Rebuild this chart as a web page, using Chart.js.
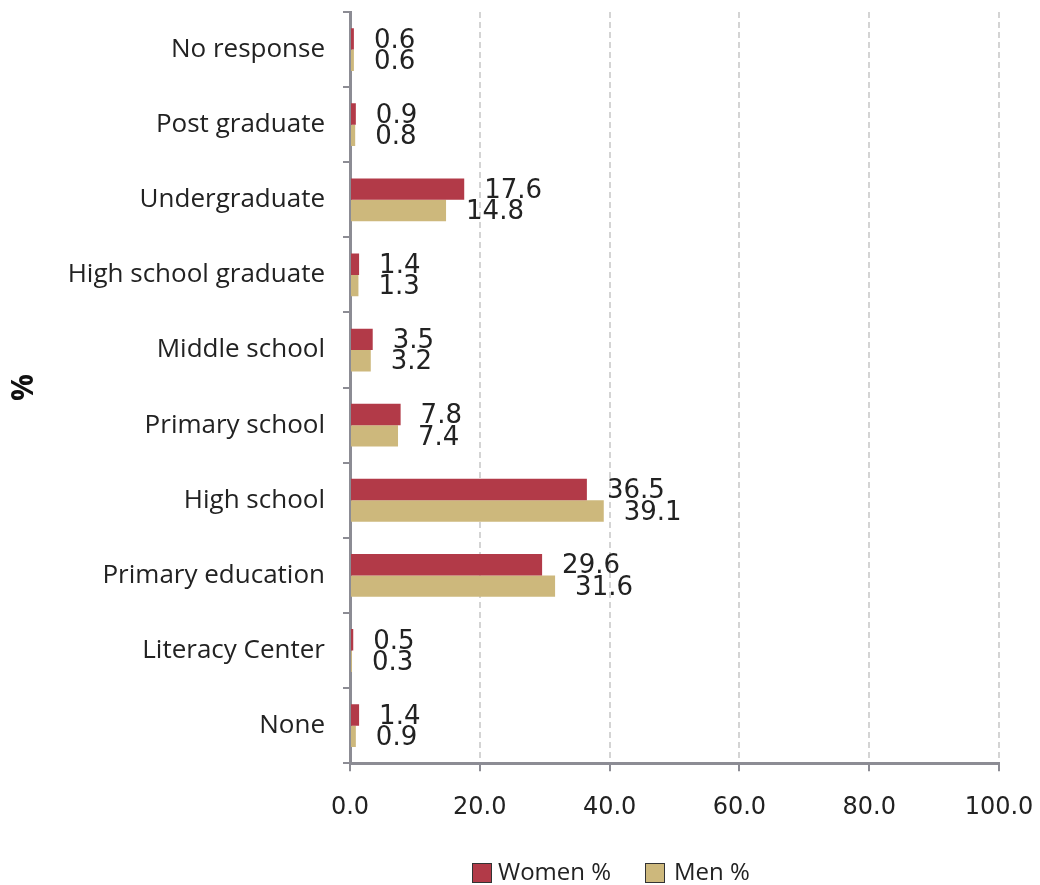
<!DOCTYPE html>
<html><head><meta charset="utf-8">
<script src="https://cdn.jsdelivr.net/npm/chart.js@4/dist/chart.umd.min.js"></script>
<style>html,body{margin:0;padding:0;background:#fff}#wrap{width:1040px;height:885px}</style>
</head><body><div id="wrap"><canvas id="c" width="1040" height="885"></canvas></div>
<script>
const categories = ["No response","Post graduate","Undergraduate","High school graduate","Middle school","Primary school","High school","Primary education","Literacy Center","None"];
const women = [0.6,0.9,17.6,1.4,3.5,7.8,36.5,29.6,0.5,1.4];
const men = [0.6,0.8,14.8,1.3,3.2,7.4,39.1,31.6,0.3,0.9];
const xTicks = [0,20,40,60,80,100];
const seriesNames = ["Women %","Men %"];
const colors = ["#B23A48","#CDB87C"];

const labelPlugin = {
  id:'vals',
  afterDatasetsDraw(chart){
    const ctx = chart.ctx;
    ctx.save();
    ctx.font = '26px "DejaVu Sans"';
    ctx.fillStyle = '#222';
    ctx.textBaseline = 'middle';
    ctx.textAlign = 'left';
    chart.data.datasets.forEach((ds,i)=>{
      chart.getDatasetMeta(i).data.forEach((bar,j)=>{
        ctx.fillText(ds.data[j].toFixed(1), bar.x + 20, bar.y + 2);
      });
    });
    ctx.restore();
  }
};
const legendPlugin = {
  id:'leg',
  afterDraw(chart){
    const ctx = chart.ctx;
    ctx.save();
    ctx.font = '24px "Open Sans"';
    ctx.textBaseline = 'middle';
    const y = 873;
    const items = [{x:472,t:seriesNames[0],c:colors[0],d:26},{x:645,t:seriesNames[1],c:colors[1],d:29}];
    items.forEach(it=>{
      ctx.fillStyle = it.c;
      ctx.fillRect(it.x, y-10, 20, 20);
      ctx.strokeStyle = '#333';
      ctx.lineWidth = 1;
      ctx.strokeRect(it.x+0.5, y-9.5, 19, 19);
      ctx.fillStyle = '#222';
      ctx.fillText(it.t, it.x+it.d, y);
    });
    ctx.restore();
  }
};

new Chart(document.getElementById('c'), {
  type:'bar',
  data:{labels:categories, datasets:[
    {label:seriesNames[0], data:women, backgroundColor:colors[0], barPercentage:1, categoryPercentage:0.57},
    {label:seriesNames[1], data:men, backgroundColor:colors[1], barPercentage:1, categoryPercentage:0.57}
  ]},
  options:{
    indexAxis:'y', responsive:false, animation:false,
    layout:{padding:{top:12,right:41,bottom:41,left:0}},
    plugins:{legend:{display:false}, tooltip:{enabled:false}},
    scales:{
      x:{min:0,max:100,
        afterBuildTicks(ax){ax.ticks = xTicks.map(v=>({value:v}));},
        afterFit(ax){ax.paddingLeft = 0; ax.paddingRight = 0;},
        ticks:{callback:v=>Number(v).toFixed(1), font:{family:'"DejaVu Sans"',size:24}, color:'#222', padding:22, maxRotation:0},
        grid:{color:(c)=> c.index===0 ? 'rgba(0,0,0,0)' : '#d4d4d4', lineWidth:2, tickColor:'#8c8c94', tickLength:8},
        border:{color:'#8c8c94', width:3, dash:[6,4]}
      },
      y:{
        afterFit(ax){ax.width = 350; ax.paddingTop = 0; ax.paddingBottom = 0;},
        ticks:{font:{family:'"Open Sans"',size:26}, color:'#222', padding:18},
        grid:{offset:true, drawOnChartArea:false, color:'#8c8c94', lineWidth:2, tickLength:7},
        border:{color:'#8c8c94', width:3},
        title:{display:true, text:'%', font:{family:'"Open Sans"',size:30,weight:'bold'}, color:'#111', padding:{top:6,bottom:0}}
      }
    }
  },
  plugins:[labelPlugin, legendPlugin]
});
</script></body></html>
